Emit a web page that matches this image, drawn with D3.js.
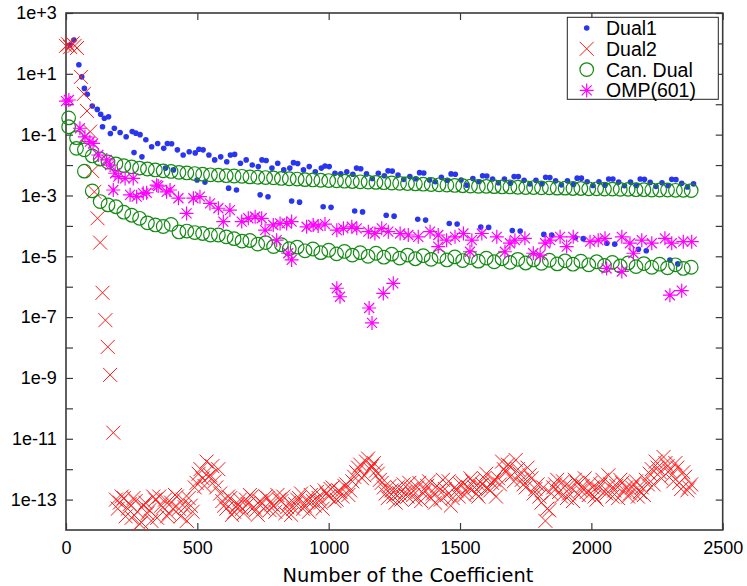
<!DOCTYPE html>
<html><head><meta charset="utf-8">
<script src="https://cdn.jsdelivr.net/npm/d3@7"></script>
<style>body{margin:0;background:#fff}</style>
</head><body>
<svg id="chart" width="747" height="586"></svg>
<script>
// ---------- tick labels / categories ----------
const xTickValues = [0, 500, 1000, 1500, 2000, 2500];
const yTickValues = [1e3, 1e1, 1e-1, 1e-3, 1e-5, 1e-7, 1e-9, 1e-11, 1e-13];
const yTickLabels = ["1e+3", "1e+1", "1e-1", "1e-3", "1e-5", "1e-7", "1e-9", "1e-11", "1e-13"];
const yMinorValues = [1e2, 1e0, 1e-2, 1e-4, 1e-6, 1e-8, 1e-10, 1e-12];
const seriesNames = ["Dual1", "Dual2", "Can. Dual", "OMP(601)"];
const xLabel = "Number of the Coefficient";

// ---------- Dual1 (coefficient number, log10 of value) ----------
const dual1X = [15,30,49,60,70,81,100,119,132,
139,146,162,169,184,206,229,252,
259,266,282,289,304,326,349,372,
379,386,402,409,424,446,469,492,
499,506,522,529,544,566,589,612,
619,626,642,649,664,686,709,732,
739,746,762,769,784,806,829,852,
859,866,882,889,904,926,949,972,
979,986,1002,1009,1024,1046,1069,1092,
1099,1106,1122,1129,1144,1166,1189,1212,
1219,1226,1242,1249,1264,1286,1309,1332,
1339,1346,1362,1369,1384,1406,1429,1452,
1459,1466,1482,1489,1504,1526,1549,1572,
1579,1586,1602,1609,1624,1646,1669,1692,
1699,1706,1722,1729,1744,1766,1789,1812,
1819,1826,1842,1849,1864,1886,1909,1932,
1939,1946,1962,1969,1984,2006,2029,2052,
2059,2066,2082,2089,2104,2126,2149,2172,
2179,2186,2202,2209,2224,2246,2269,2292,
2299,2306,2322,2329,2344,2366,2389];
const dual1Log = [1.95,2.11,1.3,0.9,0.52,0.33,-0.06,-0.17,-0.33,
-0.74,-0.46,-0.41,-0.96,-0.79,-0.93,-1.07,-0.9,
-1.59,-0.95,-1.0,-1.73,-1.17,-1.4,-1.29,-1.45,
-2.1,-1.29,-1.3,-2.16,-1.5,-1.67,-1.56,-1.6,
-2.49,-1.48,-1.5,-2.56,-1.67,-1.83,-1.73,-1.89,
-2.76,-1.67,-1.65,-2.82,-1.94,-1.83,-2.0,-2.05,
-2.98,-1.83,-1.85,-3.04,-2.1,-1.94,-2.16,-2.1,
-3.18,-1.92,-1.95,-3.22,-2.16,-2.05,-2.22,-2.1,
-3.37,-2.03,-2.05,-3.39,-2.27,-2.29,-2.22,-2.3,
-3.51,-2.1,-2.12,-3.54,-2.29,-2.44,-2.27,-2.35,
-3.65,-2.19,-2.2,-3.68,-2.33,-2.47,-2.38,-2.45,
-3.78,-2.25,-2.26,-3.81,-2.49,-2.55,-2.4,-2.5,
-3.92,-2.29,-2.3,-3.94,-2.49,-2.66,-2.44,-2.55,
-4.04,-2.35,-2.36,-4.05,-2.46,-2.58,-2.46,-2.6,
-4.15,-2.38,-2.38,-4.17,-2.5,-2.62,-2.5,-2.62,
-4.28,-2.4,-2.41,-4.3,-2.52,-2.65,-2.52,-2.64,
-4.39,-2.43,-2.43,-4.42,-2.55,-2.67,-2.55,-2.66,
-4.57,-2.46,-2.46,-4.6,-2.56,-2.68,-2.56,-2.67,
-4.77,-2.46,-2.47,-4.82,-2.57,-2.7,-2.58,-2.68,
-5.12,-2.47,-2.48,-5.25,-2.6,-2.72,-2.62];

// ---------- Dual2 (first sampling) ----------
const dual2X = [0,8,16,25,33,42,57,68,80,92,100,108,120,130,139,150,159,168,180,
190,205,220,235,250,265,280,295,310,325,
340,355,370,385,400,415,430,445,460,475,
490,505,520,535,550,565,580,595,610,625,
640,655,670,685,700,715,730,745,760,775,
790,805,820,835,850,865,880,895,910,925,
940,955,970,985,1000,1015,1030,1045,1060,1075,
1090,1105,1120,1135,1150,1165,1180,1195,1210,1225,
1240,1255,1270,1285,1300,1315,1330,1345,1360,1375,
1390,1405,1420,1435,1450,1465,1480,1495,1510,1525,
1540,1555,1570,1585,1600,1615,1630,1645,1660,1675,
1690,1705,1720,1735,1750,1765,1780,1795,1810,1825,
1840,1855,1870,1885,1900,1915,1930,1945,1960,1975,
1990,2005,2020,2035,2050,2065,2080,2095,2110,2125,
2140,2155,2170,2185,2200,2215,2230,2245,2260,2275,
2290,2305,2320,2335,2350,2365,2380];
const dual2Log = [1.92,1.97,1.88,2.0,1.92,1.85,0.9,0.34,-0.22,-0.9,-2.2,-2.88,-3.75,-4.55,-6.2,-7.1,-7.98,-8.9,-10.8,
-13.0,-13.1,-12.95,-13.3,-13.6,-13.05,-13.8,-13.2,-13.45,-13.7,
-13.0,-12.9,-13.25,-13.55,-13.1,-12.85,-13.3,-13.0,-13.7,-13.2,
-12.6,-12.15,-12.3,-11.75,-12.2,-12.4,-12.0,-13.05,-13.3,-12.95,
-13.4,-13.15,-13.3,-13.0,-12.85,-13.25,-13.5,-13.1,-12.9,-13.35,
-13.2,-12.85,-13.05,-13.45,-13.1,-13.3,-13.0,-12.8,-13.2,-13.4,
-13.05,-12.75,-13.1,-12.7,-12.9,-12.6,-13.0,-12.75,-12.55,-12.85,
-12.4,-12.1,-11.85,-12.2,-11.65,-11.9,-12.05,-12.35,-12.6,-12.95,
-12.7,-13.1,-12.8,-12.5,-12.9,-12.65,-13.0,-12.45,-12.8,-12.55,
-12.95,-13.1,-12.7,-12.35,-12.85,-13.2,-12.6,-12.9,-12.45,-12.75,
-12.3,-12.6,-12.9,-12.5,-12.15,-12.7,-12.35,-12.3,-11.75,-12.1,
-11.9,-12.4,-12.0,-12.35,-12.6,-12.2,-12.8,-12.5,-13.1,-13.7,
-13.35,-12.6,-12.35,-12.9,-12.55,-12.8,-13.05,-12.45,-12.7,-12.3,
-12.85,-12.6,-13.0,-12.5,-12.75,-12.2,-12.9,-12.55,-12.35,-12.7,
-12.9,-12.6,-12.4,-12.75,-12.85,-12.5,-12.0,-11.75,-12.1,-11.6,
-11.9,-12.2,-11.8,-12.45,-12.1,-12.7,-12.5];

// ---------- Dual2 (interleaved coefficients of the noise floor) ----------
const dual2BX = [197,212,227,242,257,272,287,302,317,332,
347,362,377,392,407,422,437,452,467,482,
497,512,527,542,557,572,587,602,617,632,
647,662,677,692,707,722,737,752,767,782,
797,812,827,842,857,872,887,902,917,932,
947,962,977,992,1007,1022,1037,1052,1067,1082,
1097,1112,1127,1142,1157,1172,1187,1202,1217,1232,
1247,1262,1277,1292,1307,1322,1337,1352,1367,1382,
1397,1412,1427,1442,1457,1472,1487,1502,1517,1532,
1547,1562,1577,1592,1607,1622,1637,1652,1667,1682,
1697,1712,1727,1742,1757,1772,1787,1802,1817,1832,
1847,1862,1877,1892,1907,1922,1937,1952,1967,1982,
1997,2012,2027,2042,2057,2072,2087,2102,2117,2132,
2147,2162,2177,2192,2207,2222,2237,2252,2267,2282,
2297,2312,2327,2342,2357,2372];
const dual2BLog = [-13.3,-12.9,-13.55,-13.15,-12.95,-13.4,-13.75,-13.1,-13.35,-12.9,
-13.6,-13.2,-13.0,-13.45,-13.3,-12.9,-13.55,-13.25,-12.95,-13.4,
-12.45,-12.0,-12.55,-12.25,-11.9,-12.6,-12.8,-13.2,-12.9,-13.5,
-13.25,-13.0,-13.45,-13.15,-12.9,-13.35,-13.05,-13.3,-12.95,-13.15,
-13.4,-13.0,-12.9,-13.25,-13.5,-13.15,-12.95,-13.3,-13.05,-12.85,
-13.2,-12.95,-13.3,-12.8,-12.65,-13.05,-12.7,-12.9,-12.5,-12.7,
-12.25,-11.95,-12.3,-11.75,-12.0,-11.8,-12.15,-12.45,-12.8,-12.55,
-12.9,-12.6,-13.0,-12.75,-12.45,-12.85,-12.6,-13.05,-12.7,-12.4,
-12.8,-12.55,-13.0,-12.65,-12.4,-12.95,-12.7,-12.5,-12.85,-12.6,
-12.4,-12.8,-12.55,-12.3,-12.65,-12.45,-12.9,-12.5,-12.0,-11.85,
-12.2,-11.7,-12.15,-12.5,-11.95,-12.3,-12.65,-12.9,-12.6,-13.3,
-12.8,-12.5,-12.75,-12.4,-12.95,-12.6,-12.35,-12.85,-12.55,-12.75,
-12.45,-12.9,-12.65,-12.35,-12.8,-12.5,-12.7,-12.95,-12.45,-12.6,
-12.8,-12.5,-12.9,-12.6,-12.35,-12.15,-12.5,-11.95,-12.3,-11.8,
-12.05,-12.4,-11.95,-12.65,-12.25,-12.6];

// ---------- Can. Dual (two interleaved branches) ----------
const canDualX = [10,40,70,100,130,160,190,220,250,280,310,340,370,400,430,460,490,520,550,580,
610,640,670,700,730,760,790,820,850,880,910,940,970,1000,1030,1060,1090,1120,1150,1180,
1210,1240,1270,1300,1330,1360,1390,1420,1450,1480,1510,1540,1570,1600,1630,1660,1690,1720,1750,1780,
1810,1840,1870,1900,1930,1960,1990,2020,2050,2080,2110,2140,2170,2200,2230,2260,2290,2320,2350,2380];
const canDualUpperLog = [-0.45,-1.1,-1.5,-1.7,-1.8,-1.9,-1.96,-2.02,-2.06,-2.1,
-2.13,-2.16,-2.19,-2.21,-2.24,-2.26,-2.28,-2.3,-2.32,-2.33,
-2.35,-2.36,-2.37,-2.39,-2.4,-2.41,-2.42,-2.44,-2.45,-2.46,
-2.48,-2.49,-2.5,-2.51,-2.52,-2.53,-2.54,-2.55,-2.56,-2.57,
-2.58,-2.59,-2.6,-2.61,-2.62,-2.63,-2.64,-2.65,-2.66,-2.67,
-2.68,-2.69,-2.7,-2.7,-2.71,-2.72,-2.72,-2.73,-2.74,-2.74,
-2.75,-2.75,-2.76,-2.76,-2.77,-2.77,-2.78,-2.78,-2.79,-2.79,
-2.8,-2.8,-2.81,-2.81,-2.82,-2.82,-2.82,-2.83,-2.83,-2.84];
const canDualLowerLog = [-0.74,-1.45,-2.2,-2.85,-3.2,-3.31,-3.37,-3.55,-3.65,-3.75,
-3.9,-3.97,-4.02,-3.95,-4.2,-4.17,-4.22,-4.25,-4.3,-4.3,
-4.36,-4.42,-4.5,-4.48,-4.6,-4.55,-4.68,-4.62,-4.75,-4.7,
-4.82,-4.76,-4.88,-4.8,-4.92,-4.84,-4.96,-4.88,-5.0,-4.9,
-5.03,-4.93,-5.06,-4.96,-5.08,-4.98,-5.1,-5.0,-5.12,-5.02,
-5.14,-5.04,-5.16,-5.06,-5.18,-5.08,-5.2,-5.1,-5.22,-5.12,
-5.23,-5.13,-5.25,-5.15,-5.26,-5.16,-5.28,-5.18,-5.3,-5.2,
-5.32,-5.22,-5.34,-5.24,-5.36,-5.26,-5.38,-5.28,-5.4,-5.36];

// ---------- OMP(601) ----------
const ompX = [0,11,53,72,91,103,123,155,168,180,
187,199,225,244,256,269,294,307,345,351,
383,396,428,459,485,510,548,580,599,624,
669,694,720,745,758,789,802,815,840,846,
859,859,916,941,960,986,1031,1031,1043,1056,
1088,1107,1151,1154,1165,1176,1202,1208,1227,1246,
1272,1303,1341,1386,1417,1417,1449,1481,1513,1538,
1545,1583,1640,1671,1690,1709,1747,1779,1805,1824,
1843,1881,1906,1931,1995,2026,2052,2058,2116,2116,
2147,2160,2192,2230,2280,2299,2306,2344,2350,2382];
const ompLog = [0.1,0.14,-0.79,-1.07,-1.23,-1.29,-1.67,-1.83,-2.0,-2.82,
-2.27,-2.38,-2.44,-2.98,-2.44,-3.04,-2.93,-2.91,-2.66,-2.69,
-2.88,-2.82,-3.09,-3.59,-3.09,-3.04,-3.26,-3.42,-3.86,-3.48,
-3.86,-3.75,-3.7,-3.75,-4.14,-3.97,-4.47,-3.92,-3.92,-4.9,
-3.86,-5.12,-4.03,-3.97,-4.0,-3.94,-4.14,-6.05,-6.33,-4.08,
-4.03,-4.08,-4.19,-6.7,-7.19,-4.25,-4.08,-6.22,-4.19,-5.89,
-4.25,-4.3,-4.36,-4.19,-4.68,-4.3,-4.47,-4.36,-4.25,-4.85,
-4.47,-4.25,-4.36,-4.85,-4.57,-4.47,-4.41,-4.9,-4.96,-4.57,
-4.47,-4.36,-4.68,-4.36,-4.52,-4.47,-4.41,-5.4,-5.5,-4.36,
-4.57,-4.9,-4.47,-4.57,-4.41,-6.28,-4.57,-6.13,-4.52,-4.52];

// ---------- drawing ----------
const box = {l: 66, r: 722.7, t: 13, b: 530};
const svg = d3.select("#chart");
const x = d3.scaleLinear().domain([0, 2500]).range([box.l, box.r]);
const y = d3.scaleLog().domain([1e-14, 1e3]).range([box.b, box.t]);
const axisColor = "#3a3a3a";
const tickFont = "'Liberation Sans', Arial, sans-serif";

const allDecades = yTickValues.concat(yMinorValues).sort((a, b) => b - a);
const yLabelOf = v => { const i = yTickValues.indexOf(v); return i >= 0 ? yTickLabels[i] : ""; };

function styleAxis(g) {
  g.select(".domain").remove();
  g.selectAll(".tick line").attr("stroke", axisColor).attr("stroke-width", 1.2);
  g.selectAll(".tick text").attr("fill", "#000");
  g.attr("font-family", tickFont).attr("font-size", 18);
}

svg.append("g").attr("transform", `translate(0,${box.b})`)
  .call(d3.axisBottom(x).tickValues(xTickValues).tickSize(-7).tickPadding(11.5).tickFormat(d3.format("d")))
  .call(styleAxis);
svg.append("g").attr("transform", `translate(0,${box.t})`)
  .call(d3.axisTop(x).tickValues(xTickValues).tickSize(-7).tickFormat(""))
  .call(styleAxis);
svg.append("g").attr("transform", `translate(${box.l},0)`)
  .call(d3.axisLeft(y).tickValues(allDecades).tickSize(-7).tickPadding(9.3).tickFormat(yLabelOf))
  .call(styleAxis);
svg.append("g").attr("transform", `translate(${box.r},0)`)
  .call(d3.axisRight(y).tickValues(allDecades).tickSize(-7).tickFormat(""))
  .call(styleAxis);

svg.append("rect").attr("x", box.l).attr("y", box.t)
  .attr("width", box.r - box.l).attr("height", box.b - box.t)
  .attr("fill", "none").attr("stroke", axisColor).attr("stroke-width", 1.6);

// marker shapes
const markers = {
  dot:    {d: "M-2.8,0a2.8,2.8 0 1,0 5.6,0a2.8,2.8 0 1,0 -5.6,0", fill: "#2a35ee", stroke: "none", sw: 0},
  cross:  {d: "M-7,-7L7,7M-7,7L7,-7", fill: "none", stroke: "#ff1a1a", sw: 1},
  circle: {d: "M-6.8,0a6.8,6.8 0 1,0 13.6,0a6.8,6.8 0 1,0 -13.6,0", fill: "none", stroke: "#138a13", sw: 1.2},
  star:   {d: "M-7,0H7M0,-7V7M-5,-5L5,5M-5,5L5,-5", fill: "none", stroke: "#ff00ff", sw: 1.2}
};

function drawSeries(xs, ls, m) {
  const spec = markers[m];
  svg.append("g").selectAll("path").data(d3.range(xs.length)).join("path")
    .attr("transform", i => `translate(${x(xs[i])},${y(Math.pow(10, ls[i]))})`)
    .attr("d", spec.d).attr("fill", spec.fill).attr("stroke", spec.stroke).attr("stroke-width", spec.sw);
}

drawSeries(dual1X, dual1Log, "dot");
drawSeries(dual2X, dual2Log, "cross");
drawSeries(dual2BX, dual2BLog, "cross");
drawSeries(canDualX, canDualUpperLog, "circle");
drawSeries(canDualX, canDualLowerLog, "circle");
drawSeries(ompX, ompLog, "star");

// legend
const lg = svg.append("g");
lg.append("rect").attr("x", 567.3).attr("y", 17.3).attr("width", 151).attr("height", 82)
  .attr("fill", "#fff").attr("stroke", "#222").attr("stroke-width", 1);
const legendMarkers = ["dot", "cross", "circle", "star"];
seriesNames.forEach((name, i) => {
  const cy = 28 + i * 20.8;
  const spec = markers[legendMarkers[i]];
  lg.append("path").attr("transform", `translate(586.7,${cy})`).attr("d", spec.d)
    .attr("fill", spec.fill).attr("stroke", spec.stroke).attr("stroke-width", spec.sw);
  lg.append("text").attr("x", 606).attr("y", cy + 7).text(name)
    .attr("font-family", tickFont).attr("font-size", 19.5).attr("fill", "#000");
});

svg.append("text").attr("x", 408).attr("y", 581.7).attr("text-anchor", "middle")
  .attr("font-family", "'DejaVu Sans', sans-serif").attr("font-size", 19.4).attr("fill", "#000")
  .text(xLabel);
</script>
</body></html>
